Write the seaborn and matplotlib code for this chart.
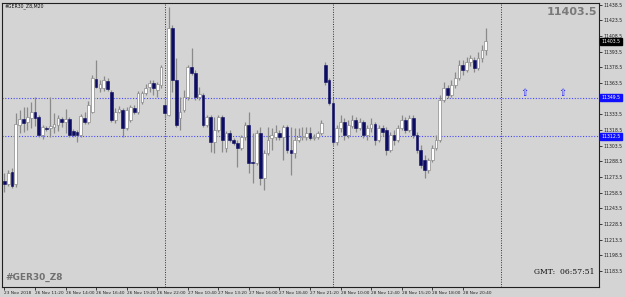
import matplotlib
matplotlib.use("Agg")
import matplotlib.pyplot as plt
import matplotlib.transforms as mtransforms
import numpy as np
import pandas as pd
import seaborn as sns

# ---------------- data (M20 candles, #GER30_Z8) ----------------
opens = [11269.5, 11267.0, 11278.5, 11267.0, 11323.5, 11329.0, 11326.0, 11330.0, 11336.0, 11331.0,
         11314.0, 11320.5, 11320.5, 11321.5, 11323.5, 11329.0, 11326.0, 11329.0, 11317.5, 11316.5,
         11314.0, 11330.0, 11326.0, 11336.0, 11367.5, 11359.0, 11359.0, 11365.5, 11355.0, 11328.0,
         11336.0, 11337.5, 11320.5, 11328.0, 11339.5, 11336.0, 11345.5, 11354.0, 11360.0, 11363.5,
         11357.0, 11361.5, 11342.5, 11333.0, 11416.5, 11366.5, 11330.0, 11337.5, 11350.0, 11379.0,
         11373.0, 11350.0, 11352.0, 11323.5, 11331.0, 11307.0, 11318.5, 11331.0, 11301.0, 11315.5,
         11309.0, 11306.0, 11301.0, 11312.0, 11323.5, 11288.0, 11287.0, 11315.5, 11272.5, 11296.5,
         11311.0, 11312.0, 11315.5, 11312.0, 11321.5, 11299.5, 11296.5, 11309.0, 11312.0, 11312.0,
         11315.5, 11311.0, 11312.0, 11315.5, 11381.0, 11366.5, 11344.5, 11307.0, 11320.5, 11326.0,
         11314.0, 11322.5, 11328.0, 11320.5, 11326.0, 11314.0, 11320.5, 11324.5, 11309.0, 11320.5,
         11318.5, 11299.5, 11314.0, 11309.0, 11320.5, 11328.0, 11318.5, 11330.0, 11314.0, 11299.5,
         11290.0, 11280.0, 11290.0, 11301.0, 11309.0, 11347.5, 11359.0, 11352.0, 11361.5, 11368.5,
         11381.0, 11376.0, 11383.5, 11385.5, 11378.0, 11387.5, 11395.0]
highs = [11277.5, 11280.0, 11282.0, 11335.0, 11337.5, 11340.5, 11340.5, 11345.5, 11350.0, 11333.0,
         11323.5, 11322.5, 11350.0, 11335.0, 11333.0, 11331.0, 11338.5, 11331.0, 11319.5, 11318.5,
         11334.0, 11336.0, 11346.5, 11371.0, 11385.5, 11366.5, 11370.0, 11368.0, 11357.0, 11339.5,
         11341.5, 11339.5, 11340.5, 11342.5, 11342.5, 11356.0, 11356.0, 11362.5, 11366.5, 11366.5,
         11364.5, 11381.0, 11347.5, 11436.5, 11419.0, 11387.5, 11350.0, 11357.0, 11381.0, 11397.0,
         11376.0, 11360.0, 11354.0, 11333.0, 11333.0, 11331.0, 11333.0, 11333.0, 11317.5, 11318.5,
         11311.0, 11309.0, 11314.0, 11326.0, 11336.0, 11315.5, 11318.5, 11321.5, 11299.5, 11321.5,
         11320.5, 11323.5, 11318.5, 11323.5, 11323.5, 11321.5, 11320.5, 11320.5, 11321.5, 11321.5,
         11321.5, 11314.5, 11317.5, 11328.0, 11383.5, 11368.5, 11347.5, 11323.5, 11333.0, 11330.0,
         11328.0, 11333.0, 11331.0, 11330.0, 11328.0, 11323.5, 11330.0, 11326.0, 11323.5, 11323.5,
         11321.5, 11316.5, 11318.5, 11323.5, 11333.0, 11331.0, 11333.0, 11333.0, 11316.5, 11304.0,
         11294.5, 11292.0, 11304.0, 11314.0, 11352.0, 11364.5, 11361.5, 11366.5, 11374.0, 11385.5,
         11385.5, 11388.5, 11390.0, 11388.5, 11393.0, 11400.0, 11416.5]
lows = [11259.0, 11265.0, 11263.0, 11264.0, 11315.5, 11316.5, 11318.5, 11320.5, 11322.5, 11312.0,
        11310.0, 11317.5, 11312.0, 11315.5, 11317.5, 11321.5, 11315.5, 11312.0, 11312.0, 11307.0,
        11312.0, 11324.5, 11324.5, 11335.0, 11359.0, 11355.0, 11356.0, 11356.0, 11326.0, 11325.0,
        11335.0, 11312.0, 11318.5, 11326.0, 11334.0, 11334.0, 11343.5, 11352.0, 11355.0, 11352.0,
        11350.0, 11359.0, 11330.0, 11332.0, 11355.0, 11321.5, 11318.5, 11336.0, 11347.0, 11371.0,
        11347.0, 11347.0, 11321.5, 11321.5, 11297.5, 11296.5, 11316.5, 11297.5, 11297.5, 11307.0,
        11304.0, 11283.0, 11299.5, 11309.0, 11277.5, 11268.0, 11285.0, 11266.0, 11261.0, 11294.5,
        11299.5, 11309.0, 11309.0, 11290.0, 11296.5, 11275.5, 11292.0, 11307.0, 11309.0, 11309.0,
        11309.0, 11309.0, 11310.0, 11314.0, 11361.5, 11342.5, 11304.0, 11304.0, 11316.5, 11309.0,
        11311.0, 11320.5, 11316.5, 11318.5, 11311.0, 11309.0, 11316.5, 11304.0, 11307.0, 11313.0,
        11294.5, 11297.5, 11304.0, 11307.0, 11318.5, 11315.5, 11316.5, 11311.0, 11296.5, 11282.0,
        11272.5, 11277.5, 11288.0, 11299.5, 11307.0, 11345.5, 11349.0, 11350.0, 11359.0, 11366.5,
        11371.0, 11374.0, 11380.0, 11374.0, 11376.0, 11383.5, 11390.0]
closes = [11267.0, 11277.5, 11265.0, 11324.5, 11329.0, 11325.0, 11331.0, 11336.0, 11330.0, 11314.0,
          11321.5, 11320.0, 11322.5, 11324.5, 11330.0, 11326.0, 11329.0, 11314.0, 11314.0, 11314.0,
          11332.0, 11326.0, 11342.5, 11368.5, 11360.0, 11362.5, 11366.5, 11358.0, 11328.0, 11336.0,
          11338.5, 11320.5, 11337.5, 11340.5, 11336.0, 11354.0, 11354.0, 11359.0, 11363.5, 11359.0,
          11362.5, 11379.0, 11335.0, 11416.5, 11366.5, 11323.5, 11336.0, 11350.0, 11379.0, 11373.0,
          11350.0, 11353.0, 11323.5, 11331.0, 11307.0, 11318.5, 11331.0, 11309.0, 11315.5, 11309.0,
          11306.0, 11301.0, 11312.0, 11323.5, 11287.0, 11286.5, 11315.5, 11272.5, 11296.5, 11309.0,
          11314.0, 11316.5, 11312.0, 11321.5, 11299.5, 11296.5, 11309.0, 11312.0, 11313.0, 11315.5,
          11311.0, 11312.0, 11315.5, 11325.0, 11364.5, 11344.5, 11307.0, 11320.5, 11326.0, 11314.0,
          11323.5, 11328.0, 11320.5, 11326.0, 11314.0, 11320.5, 11324.5, 11309.0, 11320.5, 11316.5,
          11299.5, 11314.0, 11309.0, 11320.5, 11328.0, 11318.5, 11330.0, 11314.0, 11299.5, 11285.0,
          11280.0, 11290.0, 11301.0, 11309.0, 11347.5, 11359.0, 11352.0, 11361.5, 11368.5, 11381.0,
          11376.0, 11383.5, 11387.5, 11378.0, 11387.5, 11395.0, 11403.5]

tick_bars = [0, 8, 16, 24, 32, 40, 48, 56, 64, 72, 80, 88, 96, 104, 112, 120]
time_labels = ["23 Nov 2018", "26 Nov 11:20", "26 Nov 14:00", "26 Nov 16:40", "26 Nov 19:20",
               "26 Nov 22:00", "27 Nov 10:40", "27 Nov 13:20", "27 Nov 16:00", "27 Nov 18:40",
               "27 Nov 21:20", "28 Nov 10:00", "28 Nov 12:40", "28 Nov 15:20", "28 Nov 18:00",
               "28 Nov 20:40"]
price_ticks = [11183.5, 11198.5, 11213.5, 11228.5, 11243.5, 11258.5, 11273.5, 11288.5, 11303.5,
               11318.5, 11333.5, 11363.5, 11378.5, 11393.5, 11408.5, 11423.5, 11438.5]
level_prices = [11349.5, 11312.5]
current_price = 11403.5
separator_bars = [42, 86, 130]
arrow_bars = [136, 146]
arrow_price = 11349.5

df = pd.DataFrame({"open": opens, "high": highs, "low": lows, "close": closes})
df["bar"] = np.arange(len(df))
df["bull"] = df["close"] >= df["open"]

# ---------------- style ----------------
BG = "#d4d4d4"
sns.set_theme(style="white", rc={"axes.facecolor": BG, "figure.facecolor": BG})
plt.rcParams["font.family"] = ["DejaVu Sans"]

fig = plt.figure(figsize=(6.25, 2.97), dpi=100)
ax = fig.add_axes([2 / 625, 10 / 297, 597 / 625, 284 / 297])
ax.set_facecolor(BG)

ax.set_xlim(-0.63, 155.66)
ax.set_ylim(11168.2, 11440.2)

WICK = "#8a8a8a"
BEAR = "#0c0c62"

# wicks
ax.vlines(df["bar"], df["low"], df["high"], color=WICK, linewidth=0.9, zorder=3)
# bodies
body_bottom = df[["open", "close"]].min(axis=1)
body_h = (df["close"] - df["open"]).abs().clip(lower=0.7)
ax.bar(df.loc[df["bull"], "bar"], body_h[df["bull"]], bottom=body_bottom[df["bull"]],
       width=0.72, color="white", edgecolor=WICK, linewidth=0.5, zorder=4)
ax.bar(df.loc[~df["bull"], "bar"], body_h[~df["bull"]], bottom=body_bottom[~df["bull"]],
       width=0.72, color=BEAR, edgecolor=BEAR, linewidth=0.4, zorder=4)

# period separators
for b in separator_bars:
    ax.axvline(b, color="#303030", linestyle=(0, (1, 1.5)), linewidth=0.7, zorder=2)

# level lines
for p in level_prices:
    ax.axhline(p, color="#4848ff", linestyle=(0, (1, 1.5)), linewidth=0.8, zorder=2)

# arrows
for b in arrow_bars:
    ax.text(b, arrow_price, "\u21e7", color="#2020ff", fontsize=7, ha="center", va="bottom",
            zorder=5, fontfamily="DejaVu Sans")

# axes frame
for s in ax.spines.values():
    s.set_color("#202020")
    s.set_linewidth(0.8)
    s.set_visible(True)

# price axis on the right
ax.yaxis.tick_right()
ax.set_yticks(price_ticks)
ax.set_yticklabels([f"{p:.1f}" for p in price_ticks])
ax.tick_params(axis="y", which="both", right=True, left=False, direction="out", length=2,
               width=0.6, color="#202020", labelsize=3.3, pad=1, labelcolor="#202020")

# time axis
ax.set_xticks(tick_bars)
ax.set_xticklabels(time_labels, ha="left")
ax.tick_params(axis="x", which="both", bottom=True, direction="out", length=2.5, width=0.6,
               color="#202020", labelsize=3.1, pad=0.5, labelcolor="#202020")
for lbl in ax.get_xticklabels():
    lbl.set_horizontalalignment("left")

# highlighted price labels
trans = mtransforms.blended_transform_factory(ax.transAxes, ax.transData)
ax.text(1.004, current_price, f"{current_price:.1f}", transform=trans, fontsize=3.3,
        color="white", ha="left", va="center",
        bbox=dict(boxstyle="square,pad=0.25", fc="black", ec="black"), zorder=6, clip_on=False)
for p in level_prices:
    ax.text(1.004, p, f"{p:.1f}", transform=trans, fontsize=3.3, color="white", ha="left",
            va="center", bbox=dict(boxstyle="square,pad=0.25", fc="#1010ff", ec="#1010ff"),
            zorder=6, clip_on=False)

# texts
fig.text(5 / 625, 1 - 6 / 297, "#GER30_Z8,M20", fontsize=3.3, color="#101010", va="center")
fig.text(5 / 625, 1 - 277 / 297, "#GER30_Z8", fontsize=6.5, fontweight="bold",
         color="#707070", va="center")
fig.text(597 / 625, 1 - 12 / 297, f"{current_price:.1f}", fontsize=8, fontweight="bold",
         color="#7a7a7a", ha="right", va="center")
fig.text(595 / 625, 1 - 272 / 297, "GMT:  06:57:51", fontsize=5.5, color="#101010",
         ha="right", va="center", fontfamily="DejaVu Serif")

fig.savefig("out.png", dpi=100, facecolor=BG)
